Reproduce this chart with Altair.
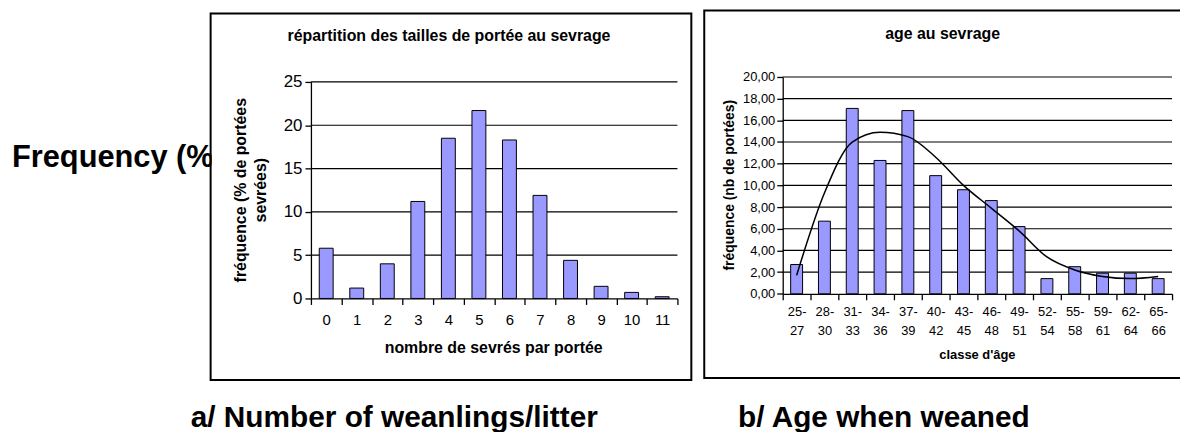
import altair as alt
import pandas as pd

# ---------------- data ----------------
left_cats = ["0", "1", "2", "3", "4", "5", "6", "7", "8", "9", "10", "11"]
left_vals = [5.8, 1.2, 4.0, 11.2, 18.5, 21.7, 18.3, 11.9, 4.4, 1.4, 0.7, 0.2]
left_ticks = [0, 5, 10, 15, 20, 25]
left_grid = [5, 10, 15, 20, 25]

right_cats = ["25-27", "28-30", "31-33", "34-36", "37-39", "40-42", "43-45",
              "46-48", "49-51", "52-54", "55-58", "59-61", "62-64", "65-66"]
right_vals = [2.7, 6.7, 17.1, 12.3, 16.9, 10.9, 9.6, 8.6, 6.2, 1.4, 2.5, 1.9, 1.9, 1.4]
right_trend = [1.7, 9.3, 14.0, 14.9, 14.5, 12.6, 10.0, 7.9, 5.8, 3.4, 2.2, 1.6, 1.4, 1.6]
right_ticks = [0, 2, 4, 6, 8, 10, 12, 14, 16, 18, 20]
right_grid = [2, 4, 6, 8, 10, 12, 14, 16, 18, 20]

FONT = "Liberation Sans"
W, H = 1180, 424
OX, OY = 8, 8


def px(x):
    return x - OX


def py(y):
    return y - OY


one = pd.DataFrame({"k": [0]})


def label(text, x, y, size, bold=True, angle=0, align="center", baseline="middle"):
    return alt.Chart(pd.DataFrame({"t": [text]})).mark_text(
        font=FONT, fontSize=size, fontWeight="bold" if bold else "normal",
        angle=angle, align=align, baseline=baseline, color="black"
    ).encode(x=alt.value(px(x)), y=alt.value(py(y)), text="t:N")


def box(x1, x2, y1, y2, **kw):
    return alt.Chart(one).mark_rect(**kw).encode(
        x=alt.value(px(x1)), x2=alt.value(px(x2)),
        y=alt.value(py(y1)), y2=alt.value(py(y2)))


# ---------------- left chart ----------------
L_X0, L_X1, L_Y0, L_Y1 = 313, 682, 81, 299
lxs = alt.Scale(domain=left_cats, range=[px(L_X0), px(L_X1)], paddingInner=0, paddingOuter=0)
lys = alt.Scale(domain=[0, 25], range=[py(L_Y1), py(L_Y0)], nice=False, zero=True)

ldf = pd.DataFrame({"cat": left_cats, "val": left_vals})
lbars = alt.Chart(ldf).mark_bar(
    width=alt.RelativeBandSize(14 / 30.75), color="#9999FF", stroke="black", strokeWidth=1
).encode(
    x=alt.X("cat:N", sort=left_cats, scale=lxs,
            axis=alt.Axis(orient="bottom", offset=-(H - py(L_Y1)), title=None, labelAngle=0,
                          tickBand="extent", labelFont=FONT, labelFontSize=15, labelColor="black",
                          labelExpr="datum.label ? datum.label : ''",
                          domainColor="black", tickColor="black", tickSize=6, labelPadding=8,
                          domainWidth=1.3, tickWidth=1.3, grid=False)),
    y=alt.Y("val:Q", scale=lys,
            axis=alt.Axis(orient="left", offset=-px(L_X0), values=left_ticks, title=None, grid=False,
                          labelFont=FONT, labelFontSize=17, labelColor="black", domainColor="black",
                          tickColor="black", tickSize=6, labelPadding=3, domainWidth=1.3,
                          tickWidth=1.3)),
)
lgrid = alt.Chart(pd.DataFrame({"g": left_grid})).mark_rule(color="black", strokeWidth=1.2).encode(
    y=alt.Y("g:Q", scale=lys, axis=None),
    x=alt.value(px(L_X0)), x2=alt.value(px(L_X1)),
)

# ---------------- right chart ----------------
R_X0, R_X1, R_Y0, R_Y1 = 788, 1180, 76, 294.3
rxs = alt.Scale(domain=right_cats, range=[px(R_X0), px(R_X1)], paddingInner=0, paddingOuter=0)
rys = alt.Scale(domain=[0, 20], range=[py(R_Y1), py(R_Y0)], nice=False, zero=True)

rdf = pd.DataFrame({"cat": right_cats, "val": right_vals, "trend": right_trend})
rbars = alt.Chart(rdf).mark_bar(
    width=alt.RelativeBandSize(12 / 28), color="#9999FF", stroke="black", strokeWidth=1
).encode(
    x=alt.X("cat:N", sort=right_cats, scale=rxs,
            axis=alt.Axis(orient="bottom", offset=-(H - py(R_Y1)), title=None, labelAngle=0,
                          tickBand="extent", labelFont=FONT, labelFontSize=13, labelColor="black",
                          labelExpr="indexof(datum.label + '', '-') > 0 ? [split(datum.label, '-')[0] + '-', split(datum.label, '-')[1]] : ''",
                          labelLineHeight=19, domainColor="black", tickColor="black", tickSize=6,
                          labelPadding=6, domainWidth=1.3, tickWidth=1.3, grid=False)),
    y=alt.Y("val:Q", scale=rys,
            axis=alt.Axis(orient="left", offset=-px(R_X0), values=right_ticks, title=None, grid=False,
                          labelExpr="replace(format(datum.value, '.2f'), '.', ',')",
                          labelFont=FONT, labelFontSize=13, labelColor="black", domainColor="black",
                          tickColor="black", tickSize=6, labelPadding=2, domainWidth=1.3,
                          tickWidth=1.3)),
)
rgrid = alt.Chart(pd.DataFrame({"g": right_grid})).mark_rule(color="black", strokeWidth=1.2).encode(
    y=alt.Y("g:Q", scale=rys, axis=None),
    x=alt.value(px(R_X0)), x2=alt.value(px(R_X1)),
)
rline = alt.Chart(rdf).mark_line(color="black", strokeWidth=1.5, interpolate="monotone").encode(
    x=alt.X("cat:N", sort=right_cats, scale=rxs, axis=None),
    y=alt.Y("trend:Q", scale=rys, axis=None),
)

# ---------------- decorations ----------------
freq = label("Frequency (%", 12, 158, 31, align="left")
patch = box(213, 232, 140, 180, fill="white", stroke="white", strokeWidth=0)
lbox = box(212, 696, 12, 381, fillOpacity=0, stroke="black", strokeWidth=2)
rbox = box(709, 1200, 9, 379, fillOpacity=0, stroke="black", strokeWidth=2)

ltitle = label("répartition des tailles de portée au sevrage", 452, 35, 16)
lyt1 = label("fréquence (% de portées", 243, 190, 16, angle=270)
lyt2 = label("sevrées)", 263, 190, 16, angle=270)
lxt = label("nombre de sevrés par portée", 497, 349, 16)

rtitle = label("age au sevrage", 949, 33, 16)
ryt = label("fréquence (nb de  portées)", 735, 185, 14, angle=270)
rxt = label("classe d'âge", 984, 356, 13)

cap_a = label("a/ Number of weanlings/litter", 192, 428, 30, align="left", baseline="alphabetic")
cap_b = label("b/ Age when weaned", 743, 428, 30, align="left", baseline="alphabetic")

chart = alt.layer(
    freq, patch, lbox, rbox,
    ltitle, lyt1, lyt2, lxt, rtitle, ryt, rxt, cap_a, cap_b,
    lgrid, lbars, rgrid, rbars, rline,
).resolve_scale(
    x="independent", y="independent"
).properties(
    width=W, height=H, autosize=alt.AutoSizeParams(type="none"), padding=0,
    background="white",
).configure_view(stroke="transparent")

chart.save("out.html", embed_options={"renderer": "svg", "actions": False})
